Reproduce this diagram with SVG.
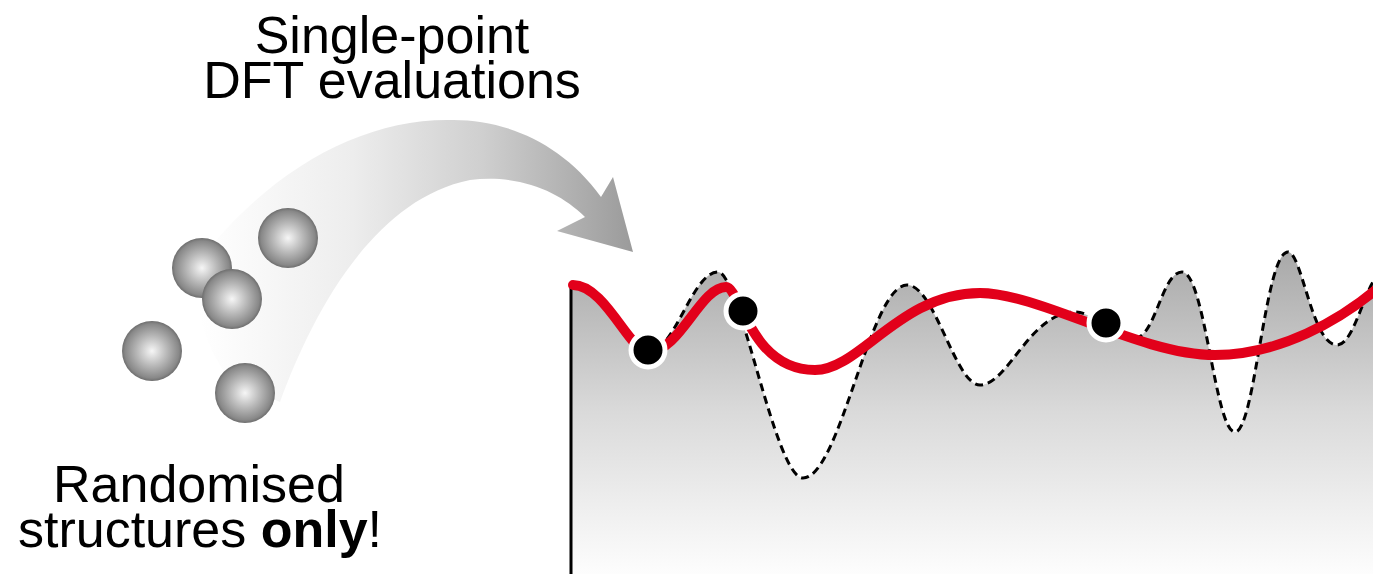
<svg xmlns="http://www.w3.org/2000/svg" width="1373" height="574" viewBox="0 0 1373 574">
  <defs>
    <style>
      .label { font-family: "Liberation Sans", Arial, sans-serif; font-size: 52px; fill: #000; text-anchor: middle; }
      .bold { font-weight: bold; }
      .sphere { fill: url(#sphereShade); }
      .dot { fill: #000; stroke: #fff; stroke-width: 5; }
      .fit { fill: none; stroke: #e2001a; stroke-width: 10; stroke-linecap: round; stroke-linejoin: round; }
      .truth { fill: none; stroke: #000; stroke-width: 3; stroke-dasharray: 8 5; }
      .axis { stroke: #000; stroke-width: 3; }
    </style>
    <radialGradient id="sphereShade" cx="0.5" cy="0.5" r="0.5">
      <stop offset="0" stop-color="#f6f6f6"/>
      <stop offset="0.5" stop-color="#b8b8b8"/>
      <stop offset="0.9" stop-color="#888"/>
      <stop offset="1" stop-color="#6e6e6e"/>
    </radialGradient>
    <linearGradient id="arrowShade" gradientUnits="userSpaceOnUse" x1="200" y1="0" x2="635" y2="0">
      <stop offset="0" stop-color="#ffffff"/>
      <stop offset="0.35" stop-color="#ededed"/>
      <stop offset="0.65" stop-color="#cfcfcf"/>
      <stop offset="1" stop-color="#9a9a9a"/>
    </linearGradient>
    <linearGradient id="areaShade" gradientUnits="userSpaceOnUse" x1="0" y1="250" x2="0" y2="574">
      <stop offset="0" stop-color="#a8a8a8"/>
      <stop offset="0.5" stop-color="#dadada"/>
      <stop offset="1" stop-color="#fdfdfd"/>
    </linearGradient>
  </defs>

  <!-- labels -->
  <g id="label-dft">
    <text class="label" x="392" y="53">Single-point</text>
    <text class="label" x="392" y="98">DFT evaluations</text>
  </g>
  <g id="label-random">
    <text class="label" x="199" y="502">Randomised</text>
    <text class="label" x="200" y="547">structures <tspan class="bold">only</tspan>!</text>
  </g>

  <!-- curved arrow from the structures to the energy landscape -->
  <g id="connectors">
    <path fill="url(#arrowShade)" d="M280,402 C310,320 370,200 470,180 C520,174 560,192 585,217 L557,231 L633,252 L613,177 L601,197 C560,140 500,118 447,120 C360,120 270,170 200,260 C190,290 200,340 230,380 Z"/>
  </g>

  <!-- randomised structures -->
  <g id="structures">
    <circle class="sphere" cx="288" cy="238" r="30"/>
    <circle class="sphere" cx="202" cy="268" r="30"/>
    <circle class="sphere" cx="232" cy="299" r="30"/>
    <circle class="sphere" cx="152" cy="351" r="30"/>
    <circle class="sphere" cx="245" cy="393" r="30"/>
  </g>

  <!-- energy landscape: shaded reference surface, dashed true curve, red fitted curve -->
  <g id="landscape">
    <path fill="url(#areaShade)" d="M571,283 C605,283 630,352 648,352 C675,352 692,272 718,272 C740,272 775,478 803,478 C840,478 870,285 907,285 C935,285 955,385 980,385 C1008,385 1030,312 1075,312 C1095,312 1110,338 1135,338 C1155,338 1162,272 1182,272 C1205,272 1215,432 1235,432 C1255,432 1265,252 1288,252 C1302,252 1312,345 1337,345 C1352,345 1362,300 1373,282 L1373,574 L571,574 Z"/>
    <line class="axis" x1="571" y1="284" x2="571" y2="574"/>
    <path class="truth" d="M571,283 C605,283 630,352 648,352 C675,352 692,272 718,272 C740,272 775,478 803,478 C840,478 870,285 907,285 C935,285 955,385 980,385 C1008,385 1030,312 1075,312 C1095,312 1110,338 1135,338 C1155,338 1162,272 1182,272 C1205,272 1215,432 1235,432 C1255,432 1265,252 1288,252 C1302,252 1312,345 1337,345 C1352,345 1362,300 1373,282"/>
    <path class="fit" d="M573,285 C605,285 630,352 648,352 C680,352 700,287 726,287 C740,287 750,370 815,370 C860,370 900,293 980,293 C1040,293 1140,355 1215,355 C1280,355 1340,320 1378,288"/>
  </g>

  <!-- single-point evaluations -->
  <g id="point-1"><circle class="dot" cx="648" cy="350" r="17"/></g>
  <g id="point-2"><circle class="dot" cx="743" cy="311" r="17"/></g>
  <g id="point-3"><circle class="dot" cx="1106" cy="323" r="17"/></g>
</svg>
